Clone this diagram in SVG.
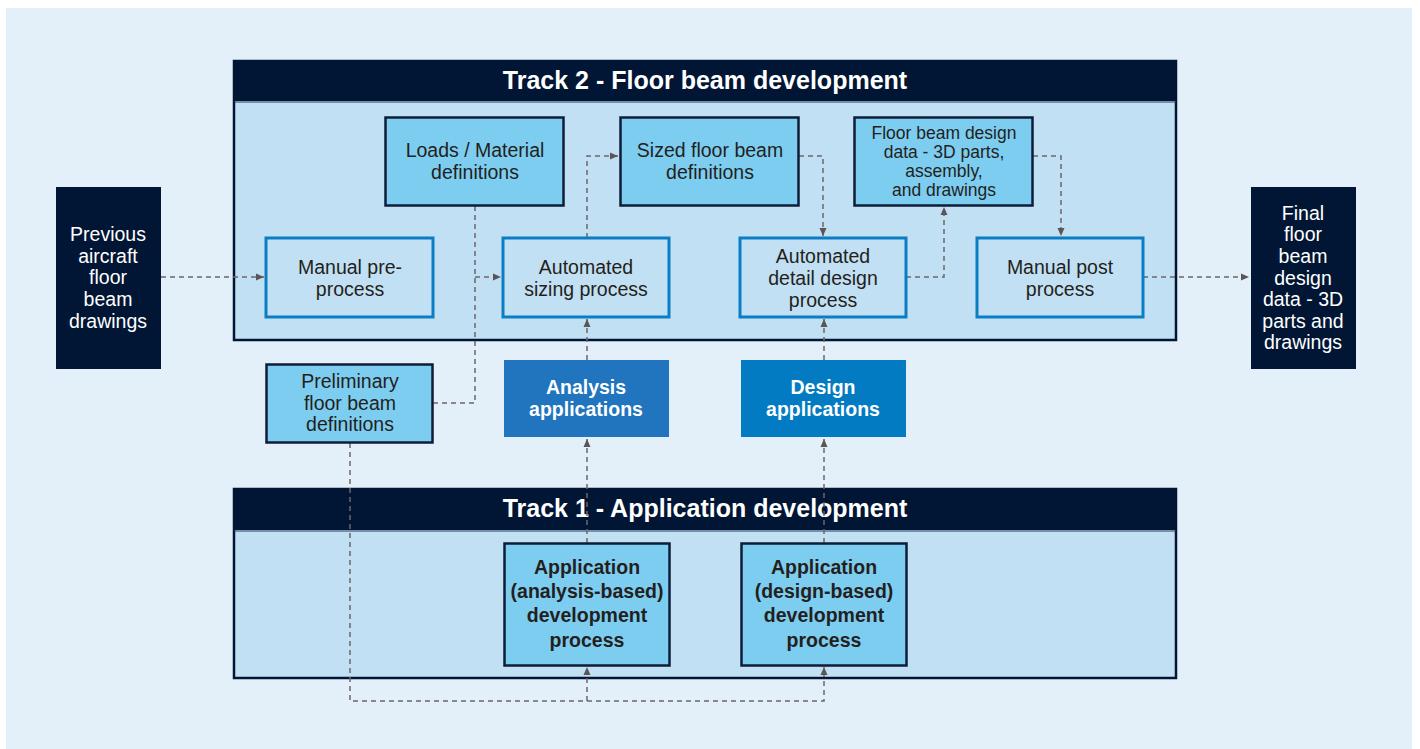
<svg xmlns="http://www.w3.org/2000/svg" width="1420" height="749" viewBox="0 0 1420 749">
<defs>
<style>
.t{font-family:"Liberation Sans",Arial,sans-serif;font-size:19.5px;fill:#231f20;text-anchor:middle}
.s{font-size:17.5px}
.w{fill:#ffffff}
.b{font-weight:bold}
.hd{font-family:"Liberation Sans",Arial,sans-serif;font-size:25px;font-weight:bold;fill:#ffffff;text-anchor:middle}
.proc{fill:#c2e0f3;stroke:#0b7dc5;stroke-width:3}
.data{fill:#7dcdf1;stroke:#0e1c38;stroke-width:2.5}
.dark{fill:#011634}
.c{fill:none;stroke:#6b6669;stroke-width:1.5;stroke-dasharray:5 4}
.a{marker-end:url(#ah)}
</style>
<marker id="ah" markerUnits="userSpaceOnUse" markerWidth="9" markerHeight="8" refX="8" refY="4" orient="auto">
<path d="M0,0.5 L8,4 L0,7.5 z" fill="#5b5557"/>
</marker>
</defs>
<rect x="0" y="0" width="1420" height="749" fill="#ffffff"/>
<rect x="6" y="8" width="1406" height="741" fill="#e3f0f9"/>

<g id="track2">
<rect x="234" y="61" width="942" height="279" fill="#c2e0f3" stroke="#011634" stroke-width="2.5"/>
<rect x="233" y="60" width="944" height="41" class="dark"/>
<line x1="234" y1="102" x2="1176" y2="102" stroke="#2a3d5e" stroke-width="1"/>
<text x="705" y="89" class="hd">Track 2 - Floor beam development</text>
</g>
<g id="track1">
<rect x="234" y="489" width="942" height="189" fill="#c2e0f3" stroke="#011634" stroke-width="2.5"/>
<rect x="233" y="488" width="944" height="42" class="dark"/>
<line x1="234" y1="531" x2="1176" y2="531" stroke="#2a3d5e" stroke-width="1"/>
<text x="705" y="517" class="hd">Track 1 - Application development</text>
</g>

<g id="connectors">
<path class="c a" d="M161,277 H264"/>
<path class="c a" d="M1143,277 H1249"/>
<path class="c" d="M433,403 H475 V206"/>
<path class="c a" d="M475,277 H501"/>
<path class="c a" d="M587,238 V156 H618"/>
<path class="c a" d="M799,156 H823 V236"/>
<path class="c a" d="M906,277 H944 V207"/>
<path class="c a" d="M1033,156 H1061 V236"/>
<path class="c a" d="M587,360 V319"/>
<path class="c a" d="M824,360 V319"/>
<path class="c a" d="M587,543 V439"/>
<path class="c a" d="M824,543 V439"/>
<path class="c a" d="M350,443 V701 H824 V667"/>
<path class="c a" d="M587,701 V667"/>
</g>

<g id="previous">
<rect x="56" y="187" width="105" height="182" class="dark"/>
<text class="t w" x="108" y="241">Previous</text>
<text class="t w" x="108" y="263">aircraft</text>
<text class="t w" x="108" y="284">floor</text>
<text class="t w" x="108" y="306">beam</text>
<text class="t w" x="108" y="328">drawings</text>
</g>
<g id="final">
<rect x="1251" y="187" width="105" height="182" class="dark"/>
<text class="t w" x="1303" y="220">Final</text>
<text class="t w" x="1303" y="241">floor</text>
<text class="t w" x="1303" y="263">beam</text>
<text class="t w" x="1303" y="285">design</text>
<text class="t w" x="1303" y="306">data - 3D</text>
<text class="t w" x="1303" y="328">parts and</text>
<text class="t w" x="1303" y="349">drawings</text>
</g>
<g id="manual-pre">
<rect x="266" y="238" width="167" height="79" class="proc"/>
<text class="t" x="350" y="274">Manual pre-</text>
<text class="t" x="350" y="296">process</text>
</g>
<g id="loads">
<rect x="385.5" y="117.5" width="178" height="88" class="data"/>
<text class="t" x="475" y="157">Loads / Material</text>
<text class="t" x="475" y="179">definitions</text>
</g>
<g id="sizing">
<rect x="503" y="238" width="166" height="79" class="proc"/>
<text class="t" x="586" y="274">Automated</text>
<text class="t" x="586" y="296">sizing process</text>
</g>
<g id="sized">
<rect x="620.5" y="117.5" width="178" height="88" class="data"/>
<text class="t" x="710" y="157">Sized floor beam</text>
<text class="t" x="710" y="179">definitions</text>
</g>
<g id="detail">
<rect x="740" y="238" width="166" height="79" class="proc"/>
<text class="t" x="823" y="263">Automated</text>
<text class="t" x="823" y="285">detail design</text>
<text class="t" x="823" y="307">process</text>
</g>
<g id="fb-data">
<rect x="854.5" y="117.5" width="178" height="88" class="data"/>
<text class="t s" x="944" y="139">Floor beam design</text>
<text class="t s" x="944" y="158">data - 3D parts,</text>
<text class="t s" x="944" y="177">assembly,</text>
<text class="t s" x="944" y="196">and drawings</text>
</g>
<g id="manual-post">
<rect x="977" y="238" width="166" height="79" class="proc"/>
<text class="t" x="1060" y="274">Manual post</text>
<text class="t" x="1060" y="296">process</text>
</g>
<g id="preliminary">
<rect x="266.5" y="364.5" width="166" height="78" class="data"/>
<text class="t" x="350" y="388">Preliminary</text>
<text class="t" x="350" y="410">floor beam</text>
<text class="t" x="350" y="431">definitions</text>
</g>
<g id="analysis-apps">
<rect x="504" y="360" width="165" height="77" fill="#2174be"/>
<text class="t w b" x="586" y="394">Analysis</text>
<text class="t w b" x="586" y="416">applications</text>
</g>
<g id="design-apps">
<rect x="741" y="360" width="165" height="77" fill="#037bc2"/>
<text class="t w b" x="823" y="394">Design</text>
<text class="t w b" x="823" y="416">applications</text>
</g>
<g id="app-analysis">
<rect x="504.5" y="543.5" width="165" height="122" class="data"/>
<text class="t b" x="587" y="574">Application</text>
<text class="t b" x="587" y="598">(analysis-based)</text>
<text class="t b" x="587" y="622">development</text>
<text class="t b" x="587" y="647">process</text>
</g>
<g id="app-design">
<rect x="741.5" y="543.5" width="165" height="122" class="data"/>
<text class="t b" x="824" y="574">Application</text>
<text class="t b" x="824" y="598">(design-based)</text>
<text class="t b" x="824" y="622">development</text>
<text class="t b" x="824" y="647">process</text>
</g>
</svg>
